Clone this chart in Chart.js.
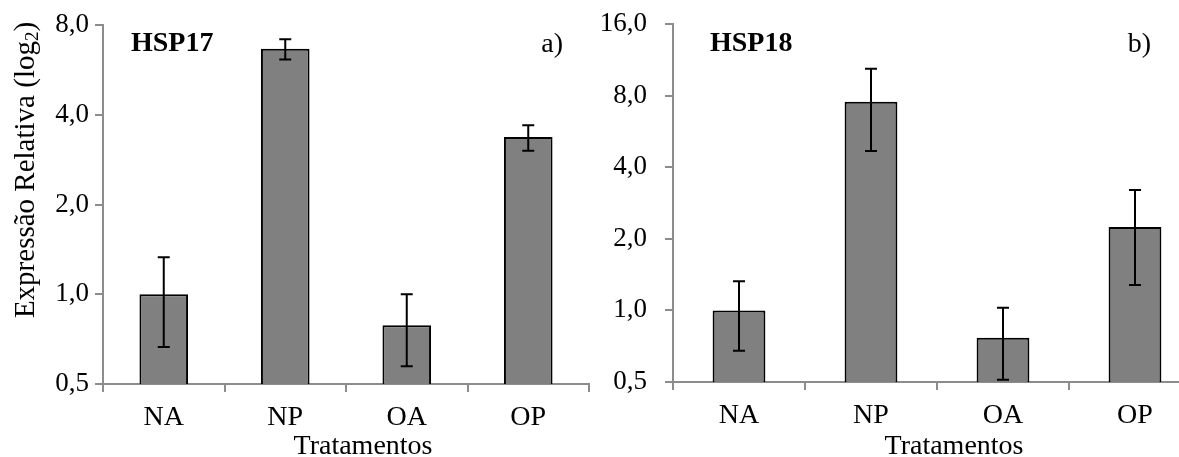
<!DOCTYPE html>
<html>
<head>
<meta charset="utf-8">
<script src="https://cdn.jsdelivr.net/npm/chart.js@4/dist/chart.umd.min.js"></script>
<style>
  html, body { margin: 0; padding: 0; background: #fff; overflow: hidden; width: 1179px; height: 457px; }
  #wrap { position: relative; width: 1179px; height: 457px; overflow: hidden; }
  canvas { position: absolute; top: 0; }
  #chartA { left: 0; }
  #chartB { left: 590px; }
</style>
</head>
<body>
<div id="wrap">
  <canvas id="chartA" width="590" height="457"></canvas>
  <canvas id="chartB" width="620" height="457"></canvas>
</div>
<script>
// Data
const categories = ["NA", "NP", "OA", "OP"];

const hsp17Values = [1.0, 6.66, 0.787, 3.37];
const hsp17ErrHigh = [1.33, 7.16, 1.0, 3.69];
const hsp17ErrLow = [0.666, 6.13, 0.573, 3.03];
const hsp17Ticks = [0.5, 1, 2, 4, 8];

const hsp18Values = [1.0, 7.53, 0.767, 2.24];
const hsp18ErrHigh = [1.326, 10.38, 1.027, 3.21];
const hsp18ErrLow = [0.676, 4.68, 0.511, 1.28];
const hsp18Ticks = [0.5, 1, 2, 4, 8, 16];

const FONT = "'Liberation Serif', 'Times New Roman', serif";
const AXIS = "#8c8c8c";

// error bars drawn through the y scale
const errorBars = {
  id: "errorBars",
  afterDatasetsDraw(chart, args, opts) {
    const ctx = chart.ctx;
    const meta = chart.getDatasetMeta(0);
    const y = chart.scales.y;
    ctx.save();
    ctx.strokeStyle = "#000";
    ctx.lineWidth = 2;
    meta.data.forEach((bar, i) => {
      const yt = y.getPixelForValue(opts.high[i]);
      const yb = y.getPixelForValue(opts.low[i]);
      ctx.beginPath();
      ctx.moveTo(bar.x, yt); ctx.lineTo(bar.x, yb);
      ctx.moveTo(bar.x - 6, yt); ctx.lineTo(bar.x + 6, yt);
      ctx.moveTo(bar.x - 6, yb); ctx.lineTo(bar.x + 6, yb);
      ctx.stroke();
    });
    ctx.restore();
  }
};

// panel texts
const panelText = {
  id: "panelText",
  afterDraw(chart, args, opts) {
    const ctx = chart.ctx;
    const a = chart.chartArea;
    ctx.save();
    ctx.fillStyle = "#000";
    ctx.textBaseline = "middle";
    ctx.font = "bold 28px " + FONT;
    ctx.textAlign = "left";
    ctx.fillText(opts.name, opts.nameX, 44);
    ctx.font = "28px " + FONT;
    ctx.textAlign = "right";
    ctx.fillText(opts.letter, opts.letterX, 45);
    ctx.textAlign = "center";
    ctx.fillText("Tratamentos", (a.left + a.right) / 2 + 17, 447);
    if (opts.yTitle) {
      ctx.translate(26, 170);
      ctx.rotate(-Math.PI / 2);
      const main = "Expressão Relativa (log";
      ctx.font = "29px " + FONT;
      const w1 = ctx.measureText(main).width;
      ctx.font = "19px " + FONT;
      const w2 = ctx.measureText("2").width;
      ctx.font = "29px " + FONT;
      const w3 = ctx.measureText(")").width;
      let x = -(w1 + w2 + w3) / 2;
      ctx.textAlign = "left";
      ctx.fillText(main, x, 0);
      x += w1;
      ctx.font = "19px " + FONT;
      ctx.fillText("2", x, 7);
      x += w2;
      ctx.font = "29px " + FONT;
      ctx.fillText(")", x, 0);
    }
    ctx.restore();
  }
};

function makeChart(id, values, high, low, ticks, cfg) {
  return new Chart(document.getElementById(id), {
    type: "bar",
    data: {
      labels: categories,
      datasets: [{
        data: values,
        backgroundColor: "#808080",
        borderColor: "#000",
        borderWidth: 2,
        categoryPercentage: 1,
        barPercentage: 0.4
      }]
    },
    options: {
      responsive: false,
      animation: false,
      layout: { padding: { top: cfg.top, right: cfg.right, left: 0, bottom: 0 } },
      plugins: {
        legend: { display: false },
        tooltip: { enabled: false },
        errorBars: { high: high, low: low },
        panelText: cfg.text
      },
      scales: {
        x: {
          grid: { drawOnChartArea: false, color: AXIS, lineWidth: 2, tickLength: 8 },
          border: { color: AXIS, width: 2 },
          ticks: { color: "#000", font: { family: FONT, size: 28 }, padding: 9 },
          afterFit: (s) => {
            s.height = cfg.xh;
            s.paddingLeft = 0; s.paddingRight = 0;
          }
        },
        y: {
          type: "logarithmic",
          min: ticks[0],
          max: ticks[ticks.length - 1],
          grid: { drawOnChartArea: false, color: AXIS, lineWidth: 2, tickLength: 8 },
          border: { color: AXIS, width: 2 },
          ticks: {
            color: "#000",
            font: { family: FONT, size: 27 },
            padding: cfg.tickPad,
            callback: (v) => Number(v).toFixed(1).replace(".", ",")
          },
          afterBuildTicks: (s) => { s.ticks = ticks.map(v => ({ value: v })); },
          afterFit: (s) => {
            s.width = cfg.yw;
            s.paddingTop = 0; s.paddingBottom = 0;
          }
        }
      }
    },
    plugins: [errorBars, panelText]
  });
}

// a) HSP17
makeChart("chartA", hsp17Values, hsp17ErrHigh, hsp17ErrLow, hsp17Ticks, {
  top: 25, right: 1, xh: 73, yw: 103, tickPad: 6,
  text: { name: "HSP17", nameX: 131, letter: "a)", letterX: 563, yTitle: true }
});

// b) HSP18
makeChart("chartB", hsp18Values, hsp18ErrHigh, hsp18ErrLow, hsp18Ticks, {
  top: 24, right: 9, xh: 75, yw: 83, tickPad: 18,
  text: { name: "HSP18", nameX: 120, letter: "b)", letterX: 561, yTitle: false }
});
</script>
</body>
</html>
